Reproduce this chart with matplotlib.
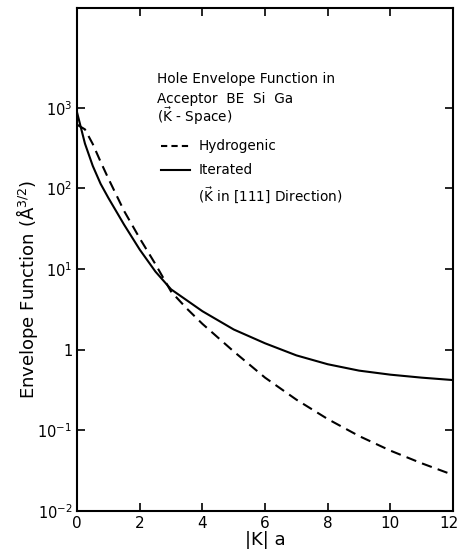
import matplotlib
matplotlib.use('Agg')
import matplotlib.pyplot as plt
from matplotlib.ticker import NullLocator
from matplotlib.transforms import ScaledTranslation

# |K| a values
ka = [0, 0.25, 0.5, 0.75, 1.0, 1.5, 2.0, 2.5, 3.0, 3.5, 4.0,
      5.0, 6.0, 7.0, 8.0, 9.0, 10.0, 11.0, 12.0]

# envelope functions, A^(3/2)
iterated = [870, 360, 190, 114, 76, 35.5, 17.4, 9.3, 5.6, 4.1, 3.0,
            1.78, 1.2, 0.85, 0.66, 0.55, 0.49, 0.45, 0.42]
hydrogenic = [617, 540, 355, 214, 132, 52.5, 24, 11.5, 5.25, 3.24, 2.09,
              0.95, 0.45, 0.24, 0.138, 0.085, 0.056, 0.039, 0.028]

x_ticks = [0, 2, 4, 6, 8, 10, 12]
y_ticks = [1e-2, 1e-1, 1, 1e1, 1e2, 1e3]
y_labels = ['$10^{-2}$', '$10^{-1}$', '1', '$10^{1}$', '$10^{2}$', '$10^{3}$']

fig = plt.figure(figsize=(4.59, 5.56), dpi=100)
ax = fig.add_axes([0.168, 0.081, 0.819, 0.905])

ax.plot(ka, hydrogenic, color='black', lw=1.5, ls=(0, (5, 3)))
ax.plot(ka, iterated, color='black', lw=1.5)

ax.set_yscale('log')
ax.set_xlim(0, 12)
ax.set_ylim(1e-2, 10 ** 4.24)
ax.set_xticks(x_ticks)
ax.set_xticklabels([str(t) for t in x_ticks], fontsize=11)
ax.set_yticks(y_ticks)
ax.set_yticklabels(y_labels, fontsize=10.5)
ax.yaxis.set_minor_locator(NullLocator())
ax.tick_params(direction='in', length=6, width=1.2, top=True, right=True)
for s in ax.spines.values():
    s.set_linewidth(1.5)

# keep the last x label inside the picture
last = ax.get_xticklabels()[-1]
last.set_transform(last.get_transform() + ScaledTranslation(-4 / 100, 0, fig.dpi_scale_trans))

ax.set_xlabel('|K| a', fontsize=13, labelpad=0)
ax.set_ylabel(r'Envelope Function ($\mathrm{\AA}^{3/2}$)', fontsize=13)
ax.yaxis.set_label_coords(-0.1, 0.44)

# key text
fs = 9.8
ax.text(0.212, 0.858, 'Hole Envelope Function in', transform=ax.transAxes, fontsize=fs, va='center')
ax.text(0.212, 0.818, 'Acceptor  BE  Si  Ga', transform=ax.transAxes, fontsize=fs, va='center')
ax.text(0.212, 0.784, r'($\vec{\mathrm{K}}$ - Space)', transform=ax.transAxes, fontsize=fs, va='center')
ax.plot([0.222, 0.300], [0.725, 0.725], transform=ax.transAxes, color='black', lw=1.5, ls=(0, (3, 2)))
ax.text(0.322, 0.725, 'Hydrogenic', transform=ax.transAxes, fontsize=fs, va='center')
ax.plot([0.222, 0.300], [0.677, 0.677], transform=ax.transAxes, color='black', lw=1.5)
ax.text(0.322, 0.677, 'Iterated', transform=ax.transAxes, fontsize=fs, va='center')
ax.text(0.322, 0.627, r'($\vec{\mathrm{K}}$ in [111] Direction)', transform=ax.transAxes, fontsize=fs, va='center')

fig.savefig('out.png', dpi=100)
